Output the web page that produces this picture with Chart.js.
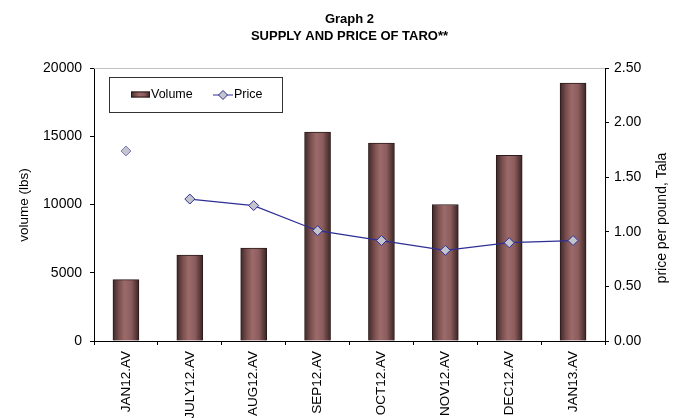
<!DOCTYPE html>
<html>
<head>
<meta charset="utf-8">
<script src="https://cdn.jsdelivr.net/npm/chart.js@4.4.1/dist/chart.umd.min.js"></script>
<style>
  html, body { margin: 0; padding: 0; background: #fff; }
  #wrap { width: 683px; height: 418px; }
</style>
</head>
<body>
<div id="wrap"><canvas id="taro-chart" width="683" height="418"></canvas></div>
<script>
// Data
const months = ['JAN12.AV', 'JULY12.AV', 'AUG12.AV', 'SEP12.AV', 'OCT12.AV', 'NOV12.AV', 'DEC12.AV', 'JAN13.AV'];
const volume = [4500, 6300, 6800, 15300, 14500, 10000, 13600, 18900];
const price = [1.74, 1.30, 1.24, 1.01, 0.92, 0.83, 0.90, 0.92];
const volumeTicks = [0, 5000, 10000, 15000, 20000];
const priceTicks = [0, 0.5, 1.0, 1.5, 2.0, 2.5];

const FONT = 'Liberation Sans, Arial, sans-serif';
const NAVY = '#2e2e96';

function barFill(chart, cx, half) {
    const g = chart.ctx.createLinearGradient(cx - half, 0, cx + half, 0);
    g.addColorStop(0, '#3f2828');
    g.addColorStop(0.25, '#7d5151');
    g.addColorStop(0.45, '#9c6a6a');
    g.addColorStop(0.7, '#8c5d5d');
    g.addColorStop(1, '#3a2424');
    return g;
}

function barGradient(ctx) {
    const chart = ctx.chart;
    if (!chart.scales.x || ctx.dataIndex === undefined) return '#8c5c5c';
    const cx = chart.scales.x.getPixelForValue(ctx.dataIndex);
    if (!isFinite(cx)) return '#8c5c5c';
    return barFill(chart, cx, 13);
}

// legend box, axis titles, top border line
const extras = {
    id: 'extras',
    afterDraw(chart) {
        const c = chart.ctx;
        const area = chart.chartArea;
        c.save();

        // light top edge of the plot
        c.strokeStyle = '#c0c0c0';
        c.lineWidth = 1;
        c.beginPath();
        c.moveTo(area.left, area.top + 0.5);
        c.lineTo(area.right, area.top + 0.5);
        c.stroke();

        // axis titles, both reading bottom to top
        c.fillStyle = '#000';
        c.textAlign = 'center';
        c.textBaseline = 'middle';
        c.save();
        c.font = '13.5px ' + FONT;
        c.translate(24, 205);
        c.rotate(-Math.PI / 2);
        c.fillText('volume (lbs)', 0, 0);
        c.restore();
        c.save();
        c.font = '14px ' + FONT;
        c.translate(662, 218);
        c.rotate(-Math.PI / 2);
        c.fillText('price per pound, Tala', 0, 0);
        c.restore();

        // legend
        const bx = area.left + 15, by = area.top + 9;
        c.fillStyle = '#fff';
        c.fillRect(bx, by, 173, 35);
        c.strokeStyle = '#333';
        c.strokeRect(bx + 0.5, by + 0.5, 173, 35);

        const midL = by + 17.5;
        c.fillStyle = barFill(chart, bx + 31.5, 9.5);
        c.fillRect(bx + 22, midL - 3, 19, 6);
        c.strokeStyle = '#2b1b1b';
        c.strokeRect(bx + 22.5, midL - 2.5, 18, 5);

        c.font = '12.5px ' + FONT;
        c.textAlign = 'left';
        c.fillStyle = '#000';
        c.fillText(chart.data.datasets[0].label, bx + 42, midL);

        c.strokeStyle = NAVY;
        c.beginPath();
        c.moveTo(bx + 104, midL + 0.5);
        c.lineTo(bx + 124, midL + 0.5);
        c.stroke();
        c.beginPath();
        c.moveTo(bx + 114, midL - 4);
        c.lineTo(bx + 118.5, midL + 0.5);
        c.lineTo(bx + 114, midL + 5);
        c.lineTo(bx + 109.5, midL + 0.5);
        c.closePath();
        c.fillStyle = '#c4c4cc';
        c.fill();
        c.stroke();
        c.fillStyle = '#000';
        c.fillText(chart.data.datasets[1].label, bx + 125, midL);

        c.restore();
    }
};

new Chart(document.getElementById('taro-chart'), {
    type: 'bar',
    data: {
        labels: months,
        datasets: [
            {
                type: 'bar',
                label: 'Volume',
                data: volume,
                yAxisID: 'y',
                backgroundColor: barGradient,
                borderColor: '#2b1b1b',
                borderWidth: 1,
                barThickness: 26,
                order: 2
            },
            {
                type: 'line',
                label: 'Price',
                data: price,
                yAxisID: 'y1',
                borderColor: NAVY,
                borderWidth: 1.2,
                pointStyle: 'rectRot',
                pointRadius: 5,
                pointBackgroundColor: '#c4c4cc',
                pointBorderColor: price.map((_, i) => i === 0 ? '#7a7ac0' : NAVY),
                pointBorderWidth: 1,
                segment: {
                    // no line between the first two points
                    borderColor: ctx => ctx.p0DataIndex === 0 ? 'rgba(0,0,0,0)' : NAVY
                },
                tension: 0,
                order: 1
            }
        ]
    },
    options: {
        responsive: false,
        animation: false,
        layout: { padding: 0 },
        plugins: {
            legend: { display: false },
            tooltip: { enabled: false },
            title: {
                display: true,
                fullSize: false,
                text: ['Graph 2', 'SUPPLY AND PRICE OF TARO**'],
                color: '#000',
                font: { family: FONT, size: 13, weight: 'bold', lineHeight: 1.3 },
                padding: { top: 11, bottom: 23.2 }
            }
        },
        scales: {
            x: {
                grid: { drawOnChartArea: false, color: '#000', tickLength: 4, offset: true },
                border: { color: '#000' },
                ticks: {
                    color: '#000',
                    font: { family: FONT, size: 13.5 },
                    minRotation: 90,
                    maxRotation: 90,
                    autoSkip: false,
                    padding: 6
                },
                afterFit(scale) { scale.height = 77; }
            },
            y: {
                position: 'left',
                min: 0,
                max: 20000,
                afterBuildTicks(scale) { scale.ticks = volumeTicks.map(v => ({ value: v })); },
                grid: { drawOnChartArea: false, color: '#000', tickLength: 4 },
                border: { color: '#000' },
                ticks: {
                    color: '#000',
                    font: { family: FONT, size: 14 },
                    padding: 8,
                    callback: v => String(v)
                },
                afterFit(scale) { scale.width = 94; }
            },
            y1: {
                position: 'right',
                min: 0,
                max: 2.5,
                afterBuildTicks(scale) { scale.ticks = priceTicks.map(v => ({ value: v })); },
                grid: { drawOnChartArea: false, color: '#000', tickLength: 4 },
                border: { color: '#000' },
                ticks: {
                    color: '#000',
                    font: { family: FONT, size: 14 },
                    padding: 5,
                    callback: v => v.toFixed(2)
                },
                afterFit(scale) { scale.width = 78; }
            }
        }
    },
    plugins: [extras]
});
</script>
</body>
</html>
